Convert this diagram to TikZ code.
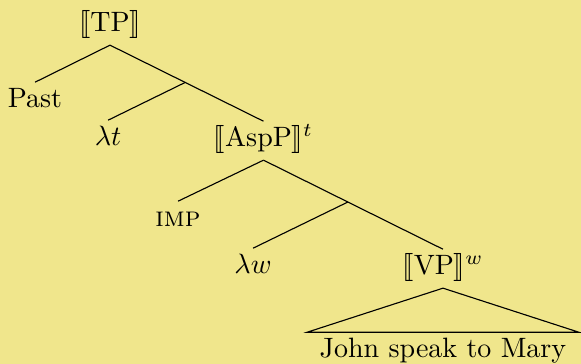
\documentclass[tikz,border=0pt]{standalone}
\usepackage{stmaryrd}
\usetikzlibrary{calc}
\definecolor{bg}{RGB}{240,230,140}
\begin{document}
\begin{tikzpicture}[x=0.357pt,y=-0.357pt,
  lbl/.style={anchor=base, inner sep=2pt, text height=7pt, text depth=2.5pt},
  edge/.style={draw=black, line width=0.4pt}]
\fill[bg] (0,0) rectangle (581,364);
\useasboundingbox (0,0) rectangle (581,364);
\node[lbl] (tp) at (110,32) {$\llbracket\mathrm{TP}\rrbracket$};
\node[lbl] (past) at (35,108) {Past};
\node[lbl] (lt) at (108,146) {$\lambda t$};
\node[lbl] (aspp) at (263.5,147) {$\llbracket\mathrm{AspP}\rrbracket^t$};
\node[lbl] (imp) at (178,227) {\textsc{imp}};
\node[lbl] (lw) at (253,274) {$\lambda w$};
\node[lbl] (vp) at (443,275) {$\llbracket\mathrm{VP}\rrbracket^w$};
\node[lbl, inner xsep=4.3pt] (john) at (443,358) {John speak to Mary};
\coordinate (j1) at ($(tp.south)!0.49!(aspp.north)$);
\coordinate (j2) at ($(aspp.south)!0.47!(vp.north)$);
\draw[edge] (tp.south) -- (past.north);
\draw[edge] (tp.south) -- (aspp.north);
\draw[edge] (j1) -- (lt.north);
\draw[edge] (aspp.south) -- (imp.north);
\draw[edge] (aspp.south) -- (vp.north);
\draw[edge] (j2) -- (lw.north);
\draw[edge] (vp.south) -- (john.north west) -- (john.north east) -- cycle;
\end{tikzpicture}
\end{document}
